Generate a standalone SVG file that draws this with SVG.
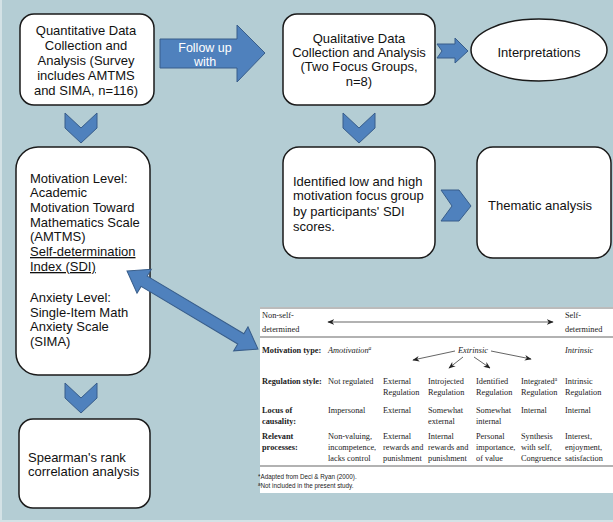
<svg xmlns="http://www.w3.org/2000/svg" width="613" height="522" viewBox="0 0 613 522">
<defs>
<style>
.box{fill:#fff;stroke:#1a1a1a;stroke-width:1.5}
.blue{fill:#4f81bd;stroke:#385d8a;stroke-width:1}
.t{font-family:"Liberation Sans",Arial,sans-serif;font-size:13px;fill:#111}
.c{text-anchor:middle}
.w{fill:#fff;font-size:12.5px}
.tb{font-family:"Liberation Serif","Times New Roman",serif;font-size:8.3px;fill:#222}
.b{font-weight:bold}
.i{font-style:italic}
.fn{font-family:"Liberation Sans",Arial,sans-serif;font-size:6.3px;fill:#222}
.thin{stroke:#222;stroke-width:0.7;fill:none}
</style>
<marker id="ah" viewBox="0 0 10 10" refX="9" refY="5" markerWidth="7" markerHeight="7" orient="auto-start-reverse" markerUnits="userSpaceOnUse">
<path d="M0,1 L10,5 L0,9 L3,5 Z" fill="#222"/>
</marker>
</defs>
<rect x="0" y="0" width="613" height="522" fill="#d4e2e6"/>
<rect x="2" y="0" width="611" height="520" fill="#b4cdd4"/>

<g id="connectors">
<polygon class="blue" points="160,39 237,39 237,25 265,53 237,82 237,68 160,68"/>
<text class="t c w" x="205" y="52">Follow up</text>
<text class="t c w" x="205" y="66">with</text>
<polygon class="blue" points="437,44 455,44 455,38 468,51 455,63 455,58 437,58 442,51"/>
<polygon class="blue" points="65,113 81,128 97,113 97,128 81,143 65,128"/>
<polygon class="blue" points="343,113 359,128 375,113 375,128 359,143 343,128"/>
<polygon class="blue" points="441,190 459,190 471,206 459,221 441,221 452,206"/>
<polygon class="blue" points="65,383 81,398 97,383 97,398 81,413 65,398"/>
</g>

<g id="quantitative">
<rect class="box" x="20" y="14" width="134" height="91" rx="14"/>
<text class="t c" x="86" y="35">Quantitative Data</text>
<text class="t c" x="86" y="50">Collection and</text>
<text class="t c" x="86" y="65">Analysis (Survey</text>
<text class="t c" x="86" y="80">includes AMTMS</text>
<text class="t c" x="86" y="95">and SIMA, n=116)</text>
</g>

<g id="qualitative">
<rect class="box" x="283" y="14" width="152" height="91" rx="14"/>
<text class="t c" x="359" y="43">Qualitative Data</text>
<text class="t c" x="359" y="57">Collection and Analysis</text>
<text class="t c" x="359" y="71">(Two Focus Groups,</text>
<text class="t c" x="359" y="86">n=8)</text>
</g>

<g id="interpretations">
<ellipse class="box" cx="539" cy="50" rx="68" ry="31"/>
<text class="t c" x="539" y="57">Interpretations</text>
</g>

<g id="motivation">
<rect class="box" x="16" y="147" width="134" height="228" rx="22"/>
<text class="t" x="30" y="183">Motivation Level:</text>
<text class="t" x="30" y="197">Academic</text>
<text class="t" x="30" y="212">Motivation Toward</text>
<text class="t" x="30" y="227">Mathematics Scale</text>
<text class="t" x="30" y="241">(AMTMS)</text>
<text class="t" x="30" y="256" text-decoration="underline">Self-determination</text>
<text class="t" x="30" y="271" text-decoration="underline">Index (SDI)</text>
<text class="t" x="30" y="302">Anxiety Level:</text>
<text class="t" x="30" y="317">Single-Item Math</text>
<text class="t" x="30" y="331">Anxiety Scale</text>
<text class="t" x="30" y="346">(SIMA)</text>
</g>

<g id="identified">
<rect class="box" x="283" y="147" width="152" height="111" rx="16"/>
<text class="t" x="293" y="186">Identified low and high</text>
<text class="t" x="293" y="200">motivation focus group</text>
<text class="t" x="293" y="216">by participants' SDI</text>
<text class="t" x="293" y="231">scores.</text>
</g>

<g id="thematic">
<rect class="box" x="477" y="147" width="134" height="111" rx="16"/>
<text class="t" x="488" y="210">Thematic analysis</text>
</g>

<g id="spearman">
<rect class="box" x="19" y="419" width="131" height="89" rx="14"/>
<text class="t" x="28" y="462">Spearman's rank</text>
<text class="t" x="28" y="476">correlation analysis</text>
</g>

<g id="double-arrow">
<polygon class="blue" transform="translate(127,271) rotate(30.8)" points="0,0 20,-14 20,-6 132.5,-6 132.5,-14 152.5,0 132.5,14 132.5,6 20,6 20,14"/>
</g>

<g id="sdt-table">
<rect x="260" y="307" width="353" height="186" fill="#fff"/>
<line x1="260" y1="308" x2="613" y2="308" stroke="#555" stroke-width="0.8"/>
<line x1="260" y1="337" x2="613" y2="337" stroke="#222" stroke-width="0.7"/>
<line x1="260" y1="466" x2="613" y2="466" stroke="#222" stroke-width="0.7"/>
<text class="tb" x="262" y="318">Non-self-</text>
<text class="tb" x="262" y="332">determined</text>
<line class="thin" x1="328" y1="322" x2="553" y2="322" marker-start="url(#ah)" marker-end="url(#ah)"/>
<text class="tb" x="565" y="318">Self-</text>
<text class="tb" x="565" y="332">determined</text>

<text class="tb b" x="262" y="353">Motivation type:</text>
<text class="tb i" x="328" y="353">Amotivation<tspan font-size="5.5" dy="-3">a</tspan></text>
<text class="tb i" x="458" y="353">Extrinsic</text>
<text class="tb i" x="565" y="353">Intrinsic</text>
<line class="thin" x1="455" y1="351" x2="413" y2="360" marker-end="url(#ah)"/>
<line class="thin" x1="463" y1="357" x2="449" y2="368" marker-end="url(#ah)"/>
<line class="thin" x1="474" y1="357" x2="490" y2="368" marker-end="url(#ah)"/>
<line class="thin" x1="491" y1="351" x2="531" y2="359" marker-end="url(#ah)"/>

<text class="tb b" x="262" y="384">Regulation style:</text>
<text class="tb" x="328" y="384">Not regulated</text>
<text class="tb" x="383" y="384">External</text>
<text class="tb" x="383" y="395">Regulation</text>
<text class="tb" x="428" y="384">Introjected</text>
<text class="tb" x="428" y="395">Regulation</text>
<text class="tb" x="476" y="384">Identified</text>
<text class="tb" x="476" y="395">Regulation</text>
<text class="tb" x="521" y="384">Integrated<tspan font-size="5.5" dy="-3">a</tspan></text>
<text class="tb" x="521" y="395">Regulation</text>
<text class="tb" x="565" y="384">Intrinsic</text>
<text class="tb" x="565" y="395">Regulation</text>

<text class="tb b" x="262" y="413">Locus of</text>
<text class="tb b" x="262" y="424">causality:</text>
<text class="tb" x="328" y="413">Impersonal</text>
<text class="tb" x="383" y="413">External</text>
<text class="tb" x="428" y="413">Somewhat</text>
<text class="tb" x="428" y="424">external</text>
<text class="tb" x="476" y="413">Somewhat</text>
<text class="tb" x="476" y="424">internal</text>
<text class="tb" x="521" y="413">Internal</text>
<text class="tb" x="565" y="413">Internal</text>

<text class="tb b" x="262" y="439">Relevant</text>
<text class="tb b" x="262" y="450">processes:</text>
<text class="tb" x="328" y="439">Non-valuing,</text>
<text class="tb" x="328" y="450">incompetence,</text>
<text class="tb" x="328" y="461">lacks control</text>
<text class="tb" x="383" y="439">External</text>
<text class="tb" x="383" y="450">rewards and</text>
<text class="tb" x="383" y="461">punishment</text>
<text class="tb" x="428" y="439">Internal</text>
<text class="tb" x="428" y="450">rewards and</text>
<text class="tb" x="428" y="461">punishment</text>
<text class="tb" x="476" y="439">Personal</text>
<text class="tb" x="476" y="450">importance,</text>
<text class="tb" x="476" y="461">of value</text>
<text class="tb" x="521" y="439">Synthesis</text>
<text class="tb" x="521" y="450">with self,</text>
<text class="tb" x="521" y="461">Congruence</text>
<text class="tb" x="565" y="439">Interest,</text>
<text class="tb" x="565" y="450">enjoyment,</text>
<text class="tb" x="565" y="461">satisfaction</text>

<text class="fn" x="258" y="479">*Adapted from Deci &amp; Ryan (2000).</text>
<text class="fn" x="258" y="488"><tspan font-size="4.5" dy="-2">a</tspan><tspan dy="2">Not included in the present study.</tspan></text>
</g>
</svg>
